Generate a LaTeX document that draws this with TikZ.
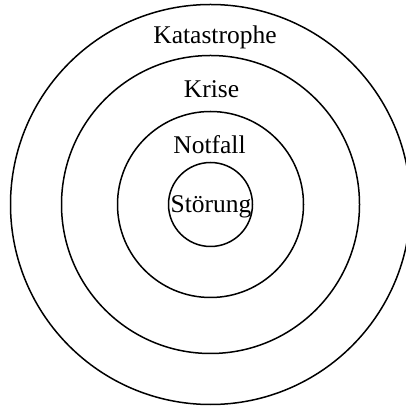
\documentclass[tikz,border=0pt]{standalone}
\usepackage{fontspec}
\setmainfont{Liberation Serif}
\begin{document}
\begin{tikzpicture}[x=1pt,y=1pt,
  ring/.style={draw=black,line width=1.5pt,circle,inner sep=0pt},
  lbl/.style={anchor=base,inner sep=0pt,font=\fontsize{25.5}{30}\selectfont}]
\useasboundingbox (0,0) rectangle (406,406);
\clip (0,0) rectangle (406,406);
\coordinate (c) at (210.5,201.5);
\node[ring,minimum size=400pt] (r4) at (c) {};
\node[ring,minimum size=298pt] (r3) at (c) {};
\node[ring,minimum size=186pt] (r2) at (c) {};
\node[ring,minimum size=84pt] (r1) at (c) {};
\node[lbl] (t4) at (215,362.7) {Katastrophe};
\node[lbl] (t3) at (211.5,308.7) {Krise};
\node[lbl] (t2) at (209.5,252.7) {Notfall};
\node[lbl] (t1) at (211,193.7) {Störung};
\end{tikzpicture}
\end{document}
